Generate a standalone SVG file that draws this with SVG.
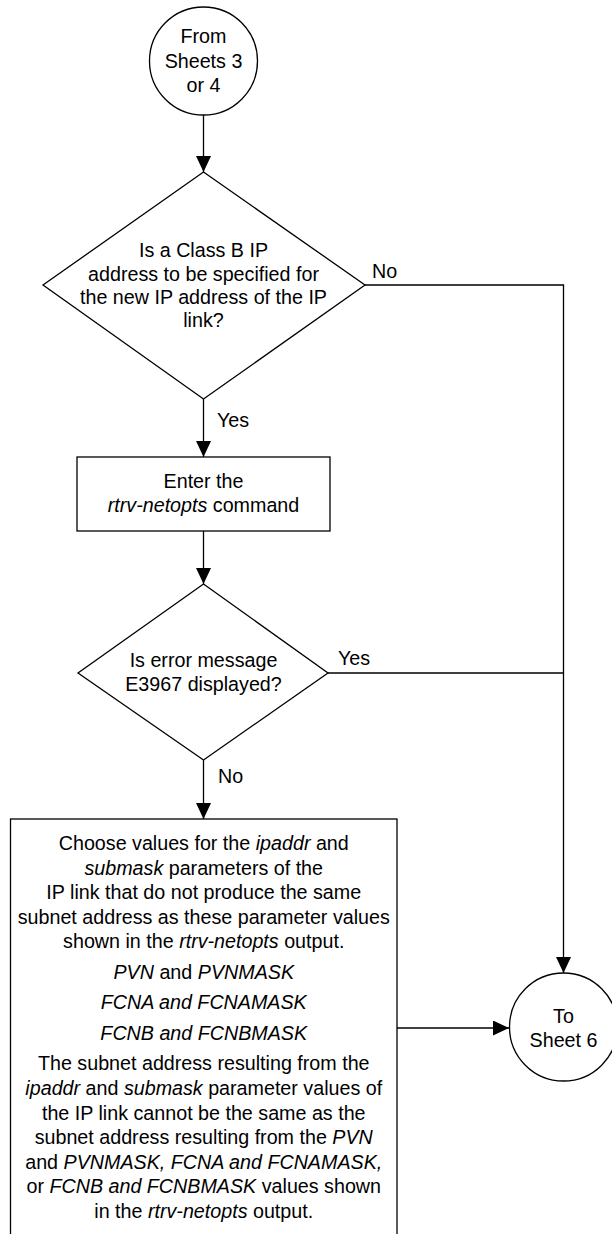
<svg xmlns="http://www.w3.org/2000/svg" width="612" height="1234" viewBox="0 0 612 1234">
<style>
.shape{fill:#fff;stroke:#000;stroke-width:1.3}
.conn{fill:none;stroke:#000;stroke-width:1.3}
text{font-family:"Liberation Sans",Arial,sans-serif;font-size:19.7px;fill:#000}
.c{text-anchor:middle}
.i{font-style:italic}
</style>
<defs>
<marker id="arrow" markerUnits="userSpaceOnUse" markerWidth="16" markerHeight="15" refX="16" refY="7.5" orient="auto">
<path d="M0,0 L16,7.5 L0,15 z" fill="#000"/>
</marker>
</defs>
<rect width="612" height="1234" fill="#fff"/>
<g id="connectors">
<line class="conn" x1="203.5" y1="115" x2="203.5" y2="172" marker-end="url(#arrow)"/>
<line class="conn" x1="203.5" y1="399" x2="203.5" y2="457" marker-end="url(#arrow)"/>
<line class="conn" x1="203.5" y1="531" x2="203.5" y2="584" marker-end="url(#arrow)"/>
<line class="conn" x1="203.5" y1="760" x2="203.5" y2="819" marker-end="url(#arrow)"/>
<polyline class="conn" points="365,285 563.5,285 563.5,973" marker-end="url(#arrow)"/>
<line class="conn" x1="328" y1="673" x2="563.5" y2="673"/>
<line class="conn" x1="397" y1="1028" x2="509" y2="1028" marker-end="url(#arrow)"/>
<text x="217" y="427">Yes</text>
<text x="372" y="278">No</text>
<text x="338" y="665">Yes</text>
<text x="218" y="783">No</text>
</g>
<g id="start">
<circle class="shape" cx="203.5" cy="61" r="54"/>
<text class="c" x="203.5" y="43">From</text>
<text class="c" x="203.5" y="68">Sheets 3</text>
<text class="c" x="203.5" y="92">or 4</text>
</g>
<g id="decision1">
<polygon class="shape" points="203.5,172 365,285 203.5,399 43,285"/>
<text class="c" x="203.5" y="257">Is a Class B IP</text>
<text class="c" x="203.5" y="281">address to be specified for</text>
<text class="c" x="203.5" y="304">the new IP address of the IP</text>
<text class="c" x="203.5" y="327">link?</text>
</g>
<g id="enter">
<rect class="shape" x="77" y="457" width="253" height="74"/>
<text class="c" x="203.5" y="488">Enter the</text>
<text class="c" x="203.5" y="512"><tspan class="i">rtrv-netopts</tspan> command</text>
</g>
<g id="decision2">
<polygon class="shape" points="203.5,584 328,673 203.5,760 78,673"/>
<text class="c" x="203.5" y="667">Is error message</text>
<text class="c" x="203.5" y="691">E3967 displayed?</text>
</g>
<g id="choose">
<rect class="shape" x="10.5" y="819" width="386.5" height="430"/>
<text class="c" x="203.75" y="850">Choose values for the <tspan class="i">ipaddr</tspan> and</text>
<text class="c" x="203.75" y="874.6"><tspan class="i">submask</tspan> parameters of the</text>
<text class="c" x="203.75" y="899.2">IP link that do not produce the same</text>
<text class="c" x="203.75" y="923.8">subnet address as these parameter values</text>
<text class="c" x="203.75" y="948.4">shown in the <tspan class="i">rtrv-netopts</tspan> output.</text>
<text class="c" x="203.75" y="978.9"><tspan class="i">PVN</tspan> and <tspan class="i">PVNMASK</tspan></text>
<text class="c i" x="203.75" y="1009.4">FCNA and FCNAMASK</text>
<text class="c i" x="203.75" y="1039.9">FCNB and FCNBMASK</text>
<text class="c" x="203.75" y="1070.4">The subnet address resulting from the</text>
<text class="c" x="203.75" y="1095"><tspan class="i">ipaddr</tspan> and <tspan class="i">submask</tspan> parameter values of</text>
<text class="c" x="203.75" y="1119.6">the IP link cannot be the same as the</text>
<text class="c" x="203.75" y="1144.2">subnet address resulting from the <tspan class="i">PVN</tspan></text>
<text class="c" x="203.75" y="1168.8">and <tspan class="i">PVNMASK, FCNA and FCNAMASK,</tspan></text>
<text class="c" x="203.75" y="1193.4">or <tspan class="i">FCNB and FCNBMASK</tspan> values shown</text>
<text class="c" x="203.75" y="1218">in the <tspan class="i">rtrv-netopts</tspan> output.</text>
</g>
<g id="end">
<circle class="shape" cx="563.5" cy="1027" r="54"/>
<text class="c" x="563.5" y="1023">To</text>
<text class="c" x="563.5" y="1047">Sheet 6</text>
</g>
</svg>
